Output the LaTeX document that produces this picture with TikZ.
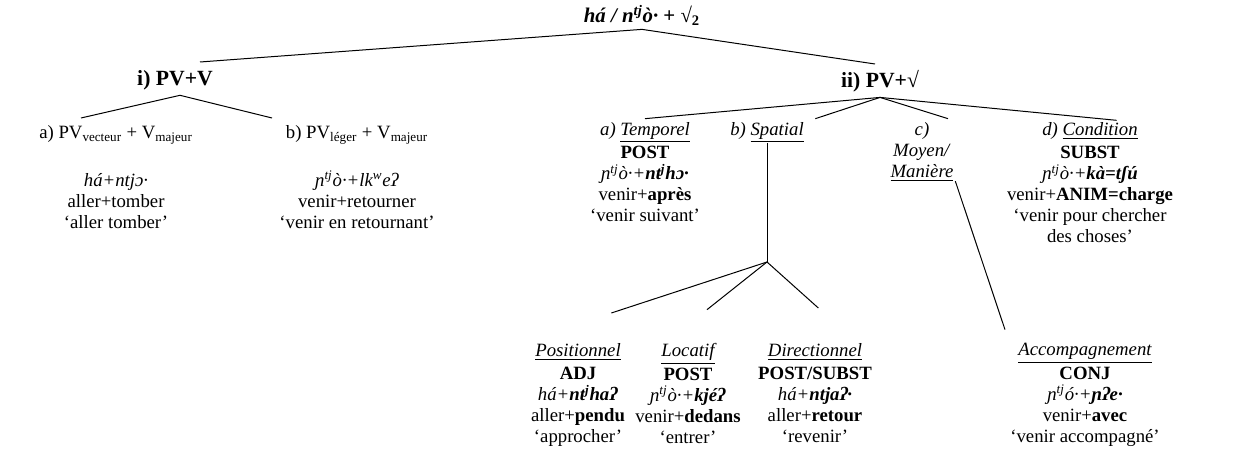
\documentclass[tikz,border=0pt]{standalone}
\usepackage{fontspec}
\setmainfont{Liberation Serif}

\begin{document}
\begin{tikzpicture}[x=0.6pt, y=-0.6pt,
  leaf/.style={align=center, inner sep=0pt, anchor=north, font=\fontsize{11.25}{12.6}\selectfont},
  cat/.style={leaf, font=\fontsize{13}{14}\selectfont\bfseries},
  branch/.style={-, line width=0.6pt}
]
\useasboundingbox (0,0) rectangle (1250,450);

\node[cat, font=\fontsize{12.5}{14}\selectfont\bfseries] (root) at (642,5) {\textit{há / n\textsuperscript{tj}ò·} + √\textsubscript{2}};
\node[cat] (ipv) at (175,70) {i) PV+V};
\node[cat] (iipv) at (880,70) {ii) PV+√};

\node[leaf] (vect) at (116,125) {a) PV\textsubscript{vecteur} + V\textsubscript{majeur}\\[1.45em]
  \textit{há+ntjɔ·}\\ aller+tomber\\ ‘aller tomber’};
\node[leaf] (leger) at (357,125) {b) PV\textsubscript{léger} + V\textsubscript{majeur}\\[1.45em]
  \textit{ɲ\textsuperscript{tj}ò·+lk\textsuperscript{w}eʔ}\\ venir+retourner\\ ‘venir en retournant’};

\node[leaf] (temp) at (645,122) {\textit{a) \underline{Temporel}}\\[1.5pt] \textbf{POST}\\
  \textit{ɲ\textsuperscript{tj}ò·+\textbf{nt\textsuperscript{j}hɔ·}}\\ venir+\textbf{après}\\ ‘venir suivant’};
\node[leaf] (spat) at (767,122) {\textit{b) \underline{Spatial}}};
\node[leaf] (moyen) at (922,122) {\textit{c)}\\ \textit{Moyen/}\\ \textit{\underline{Manière}}};
\node[leaf] (cond) at (1090,122) {\textit{d) \underline{Condition}}\\[1.5pt] \textbf{SUBST}\\
  \textit{ɲ\textsuperscript{tj}ò·+\textbf{kà=tʃú}}\\ venir+\textbf{ANIM=charge}\\ ‘venir pour chercher\\ des choses’};

\coordinate (spl) at (767,262);

\node[leaf] (posit) at (578,343) {\textit{\underline{Positionnel}}\\[1.5pt] \textbf{ADJ}\\
  \textit{há+\textbf{nt\textsuperscript{j}haʔ}}\\ aller+\textbf{pendu}\\ ‘approcher’};
\node[leaf] (locat) at (688,343) {\textit{\underline{Locatif}}\\[1.5pt] \textbf{POST}\\
  \textit{ɲ\textsuperscript{tj}ò·+\textbf{kjéʔ}}\\ venir+\textbf{dedans}\\ ‘entrer’};
\node[leaf] (direc) at (815,343) {\textit{\underline{Directionnel}}\\[1.5pt] \textbf{POST/SUBST}\\
  \textit{há+\textbf{ntjaʔ·}}\\ aller+\textbf{retour}\\ ‘revenir’};
\node[leaf] (accomp) at (1085,343) {\textit{\underline{Accompagnement}}\\[1.5pt] \textbf{CONJ}\\
  \textit{ɲ\textsuperscript{tj}ó·+\textbf{ɲʔe·}}\\ venir+\textbf{avec}\\ ‘venir accompagné’};

% top level
\draw[branch] ([yshift=-2pt]root.south) -- ([xshift=15pt, yshift=4.8pt]ipv.north);
\draw[branch] ([yshift=-2pt]root.south) -- ([xshift=-3pt, yshift=3.6pt]iipv.north);
% i)
\draw[branch] ([xshift=3pt, yshift=-3pt]ipv.south) -- ([xshift=-21pt, yshift=4.2pt]vect.north);
\draw[branch] ([xshift=3pt, yshift=-3pt]ipv.south) -- ([xshift=-51pt, yshift=4.2pt]leger.north);
% ii)
\draw[branch] ([yshift=-3pt]iipv.south) -- ([yshift=2pt]temp.north);
\draw[branch] ([yshift=-3pt]iipv.south) -- ([xshift=29pt, yshift=2pt]spat.north);
\draw[branch] ([yshift=-3pt]iipv.south) -- ([xshift=15.6pt, yshift=2pt]moyen.north);
\draw[branch] ([yshift=-3pt]iipv.south) -- ([xshift=16pt, yshift=1pt]cond.north);
% spatial
\draw[branch] (spat.south) -- (spl);
\draw[branch] (spl) -- ([xshift=20pt, yshift=18pt]posit.north);
\draw[branch] (spl) -- ([xshift=11.4pt, yshift=20pt]locat.north);
\draw[branch] (spl) -- ([xshift=2pt, yshift=21pt]direc.north);
% moyen
\draw[branch] ([xshift=20pt]moyen.south) -- ([xshift=-48pt, yshift=8pt]accomp.north);

\end{tikzpicture}
\end{document}
